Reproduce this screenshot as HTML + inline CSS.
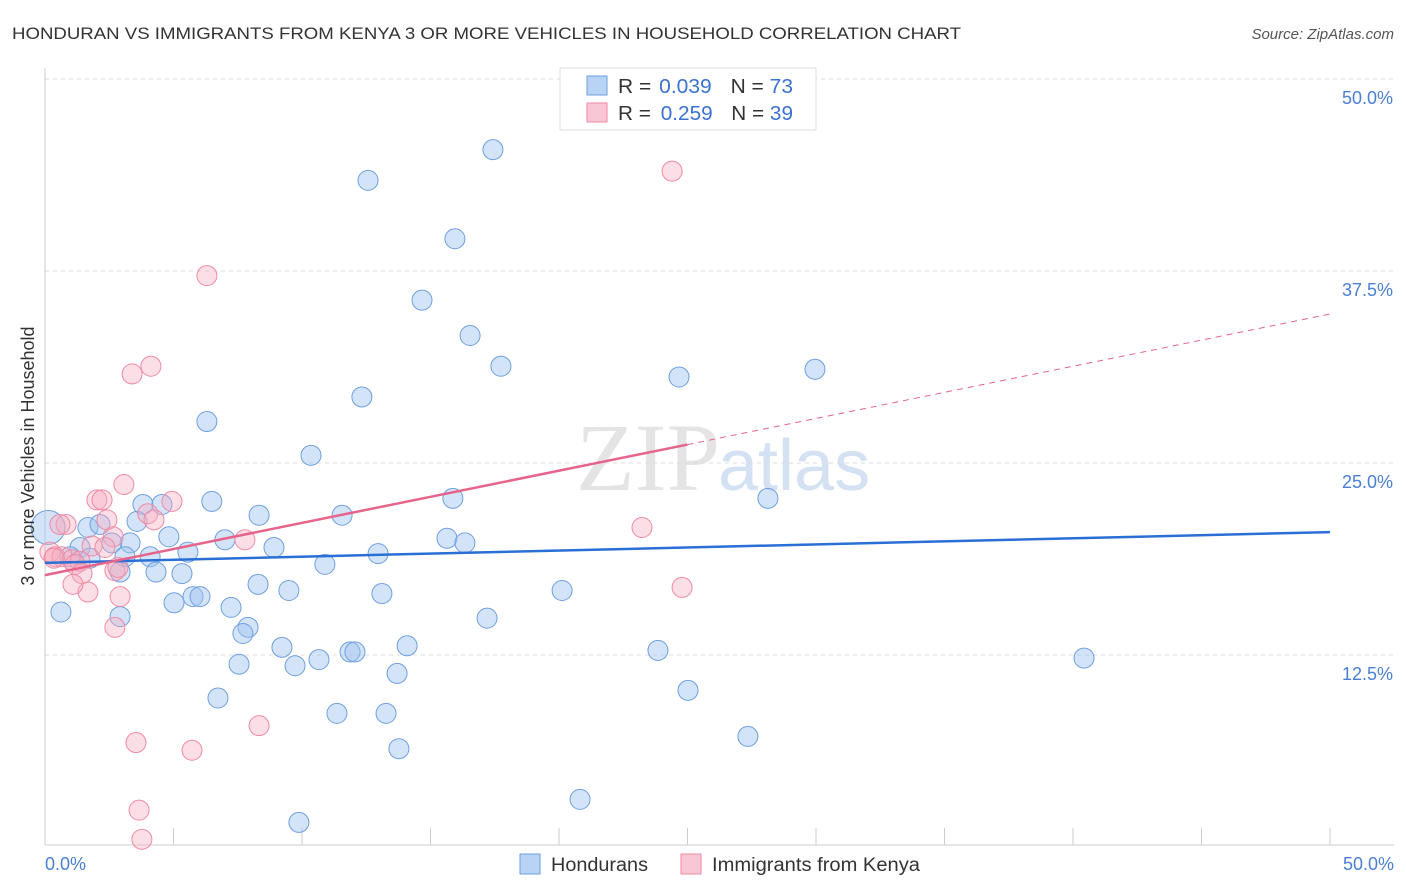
<!DOCTYPE html>
<html><head><meta charset="utf-8"><style>
body{margin:0;background:#fff;font-family:"Liberation Sans",sans-serif;}
svg{display:block}
</style></head><body>
<svg id="chart" width="1406" height="892">
<text x="12" y="39" font-size="17" fill="#333" textLength="949" lengthAdjust="spacingAndGlyphs">HONDURAN VS IMMIGRANTS FROM KENYA 3 OR MORE VEHICLES IN HOUSEHOLD CORRELATION CHART</text>
<text x="1394" y="39" font-size="15" fill="#555" font-style="italic" text-anchor="end">Source: ZipAtlas.com</text>
<text x="720" y="490" font-size="96" fill="#e4e4e4" font-family="Liberation Serif,serif" text-anchor="end">ZIP</text>
<text x="718" y="490" font-size="72" fill="#d3e1f3">atlas</text>
<g id="grid"></g><g id="axes"></g><g id="pts"></g><g id="lines"></g>
<text transform="translate(34,456) rotate(-90)" font-size="18" fill="#333" text-anchor="middle">3 or more Vehicles in Household</text>
<text x="45" y="870" font-size="18" fill="#4a7fd4">0.0%</text>
<text x="1394" y="870" font-size="18" fill="#4a7fd4" text-anchor="end">50.0%</text>
<g>
<rect x="560" y="68" width="256" height="62" fill="#fff" stroke="#ddd"/>
<rect x="587" y="76" width="20" height="19" fill="#b9d3f5" stroke="#6a9fe0"/>
<rect x="587" y="103" width="20" height="19" fill="#f9c6d5" stroke="#f08aa5"/>
<text x="618" y="93" font-size="20" fill="#333" textLength="175" lengthAdjust="spacingAndGlyphs">R = <tspan fill="#3a72d0" dx="2">0.039</tspan><tspan dx="18">N = </tspan><tspan fill="#3a72d0">73</tspan></text>
<text x="618" y="120" font-size="20" fill="#333" textLength="175" lengthAdjust="spacingAndGlyphs">R = <tspan fill="#3a72d0" dx="4">0.259</tspan><tspan dx="18">N = </tspan><tspan fill="#3a72d0">39</tspan></text>
</g>
<g>
<rect x="520" y="854" width="20" height="20" fill="#b9d3f5" stroke="#6a9fe0"/>
<text x="551" y="871" font-size="19" fill="#333" textLength="97" lengthAdjust="spacingAndGlyphs">Hondurans</text>
<rect x="681" y="854" width="20" height="20" fill="#f9c6d5" stroke="#f08aa5"/>
<text x="712" y="871" font-size="19" fill="#333" textLength="208" lengthAdjust="spacingAndGlyphs">Immigrants from Kenya</text>
</g>
</svg>
<script>
const yTicks=[12.5,25,37.5,50];
const yTickLabels=["12.5%","25.0%","37.5%","50.0%"];
const xTicks=[0,5,10,15,20,25,30,35,40,45,50];
const blueX=[17.43,12.57,15.95,14.67,16.54,17.74,12.33,24.67,29.96,6.30,10.35,6.49,3.81,4.55,8.33,11.56,15.87,28.13,0.12,1.67,2.14,3.58,4.82,7.0,3.31,1.36,2.6,5.56,8.91,15.64,16.34,12.96,0.97,1.75,3.11,4.09,2.92,4.32,5.33,10.89,8.29,9.49,13.11,20.12,5.76,6.03,5.02,0.62,2.92,7.24,17.2,7.9,7.7,9.22,14.09,11.87,12.06,23.85,40.43,7.55,9.73,10.66,13.7,6.73,25.02,11.36,13.27,27.35,13.77,20.82,9.88];
const blueY=[45.4,43.4,39.6,35.6,33.3,31.3,29.3,30.6,31.1,27.7,25.5,22.5,22.3,22.3,21.6,21.6,22.7,22.7,20.8,20.8,21.0,21.2,20.2,20.0,19.8,19.5,19.8,19.2,19.5,20.1,19.8,19.1,18.9,18.8,18.9,18.9,17.9,17.9,17.8,18.4,17.1,16.7,16.5,16.7,16.3,16.3,15.9,15.3,15.0,15.6,14.9,14.3,13.9,13.0,13.1,12.7,12.7,12.8,12.3,11.9,11.8,12.2,11.3,9.7,10.2,8.7,8.7,7.2,6.4,3.1,1.6];
const pinkX=[24.4,6.3,4.12,3.39,3.07,2.02,2.22,4.94,4.0,4.24,0.82,0.58,2.41,23.23,2.65,7.78,1.83,2.33,0.19,0.39,0.66,1.05,1.36,1.17,2.72,1.44,2.84,24.79,1.67,1.09,2.92,2.72,8.33,3.54,5.72,3.66,3.77,0.35];
const pinkY=[44.0,37.2,31.3,30.8,23.6,22.6,22.6,22.5,21.7,21.3,21.0,21.0,21.3,20.8,20.2,20.0,19.6,19.5,19.2,18.9,18.9,18.7,18.6,18.4,18.0,17.8,18.2,16.9,16.6,17.1,16.3,14.3,7.9,6.8,6.3,2.4,0.5,18.8];
const blueTrend=[18.5,20.5];
const pinkTrend=[17.7,34.7];
const pinkSolidEnd=25;
const X=v=>45+v*25.7, Y=v=>847-v*15.36;
const NS="http://www.w3.org/2000/svg";
function mk(t,a,p){const e=document.createElementNS(NS,t);for(const k in a)e.setAttribute(k,a[k]);document.getElementById(p).appendChild(e);return e;}
yTicks.forEach((v,i)=>{
 const l=mk('line',{x1:45,x2:1394,y1:Y(v),y2:Y(v),stroke:'#ddd','stroke-dasharray':'4,4'},'grid');
 
 
 const t=mk('text',{x:1393,y:Y(v)+25,'font-size':18,fill:'#4a7fd4','text-anchor':'end'},'grid');
 t.textContent=yTickLabels[i];
 
 
});
const ax=mk('line',{x1:45,x2:1394,y1:845,y2:845,stroke:'#ccc'},'axes');


const ay=mk('line',{x1:45,x2:45,y1:68,y2:845,stroke:'#ccc'},'axes');


xTicks.forEach(v=>{
 const t=mk('line',{x1:X(v),x2:X(v),y1:828,y2:845,stroke:'#ccc'},'axes');
 
 
});
blueX.forEach((v,i)=>{
 const big=i===18;
 const c=mk('circle',{cx:X(v),cy:Y(blueY[i]),r:big?17:10,fill:'rgba(160,196,240,0.45)',stroke:'#6e9fe0','stroke-width':1},'pts');
 
 
});
pinkX.forEach((v,i)=>{
 const c=mk('circle',{cx:X(v),cy:Y(pinkY[i]),r:10,fill:'rgba(246,170,190,0.38)',stroke:'#f08aa5','stroke-width':1},'pts');
 
 
});
const bl=mk('line',{x1:X(0),y1:Y(blueTrend[0]),x2:X(50),y2:Y(blueTrend[1]),stroke:'#2a6fd6','stroke-width':2.5},'lines');


const pm=pinkTrend[0]+(pinkTrend[1]-pinkTrend[0])*pinkSolidEnd/50;
const pl=mk('line',{x1:X(0),y1:Y(pinkTrend[0]),x2:X(pinkSolidEnd),y2:Y(pm),stroke:'#e6648c','stroke-width':2.5},'lines');


const pd=mk('line',{x1:X(pinkSolidEnd),y1:Y(pm),x2:X(50),y2:Y(pinkTrend[1]),stroke:'#e6648c','stroke-width':1,'stroke-dasharray':'6,5'},'lines');


</script>
</body></html>
